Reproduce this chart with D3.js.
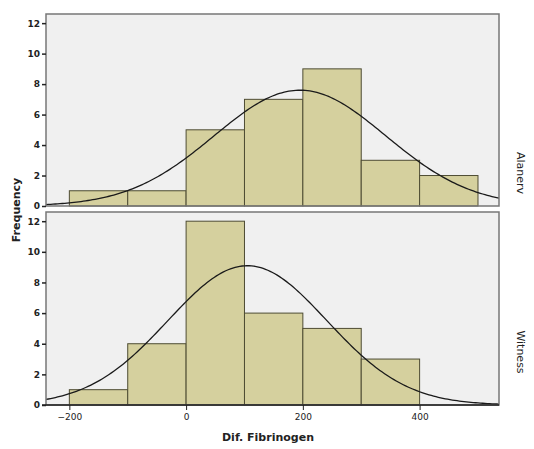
<!DOCTYPE html>
<html>
  <head>
    <meta charset="utf-8" />
    <title>Dif. Fibrinogen</title>
    <script src="https://d3js.org/d3.v7.min.js"></script>
    <style>
        body {margin: 0; background: #fff;}
        text {font-family: "DejaVu Sans", sans-serif; fill: #222;}
    </style>
  </head>
  <body>

    <svg id="chart" width="534" height="449"></svg>

    <script>

        // data
        var groups = ["Alanerv", "Witness"];
        var binStarts = [-200, -100, 0, 100, 200, 300, 400];
        var binWidth = 100;
        var alanervCounts = [1, 1, 5, 7, 9, 3, 2];
        var witnessCounts = [1, 4, 12, 6, 5, 3, 0];
        var curveMeans = [195, 105];
        var curveSds = [147, 136];
        var yTicks = [0, 2, 4, 6, 8, 10, 12];
        var xTicks = [-200, 0, 200, 400];

        var counts = [alanervCounts, witnessCounts];

        var svg = d3.select("#chart");

        var x = d3.scaleLinear().domain([-240, 536]).range([46, 499]);

        var panels = [
            {top: 14, bottom: 206, labelY: 173},
            {top: 212, bottom: 405, labelY: 352}
        ];

        panels.forEach(function(p, i) {

            var y = d3.scaleLinear().domain([0, 12.6]).range([p.bottom, p.top]);
            var g = svg.append("g");

            // plot background
            g.append("rect")
                .attr("x", x.range()[0])
                .attr("y", p.top)
                .attr("width", x.range()[1] - x.range()[0])
                .attr("height", p.bottom - p.top)
                .attr("fill", "#f0f0f0");

            // bars
            var bars = binStarts.map(function(b, j) {
                return {x0: b, x1: b + binWidth, n: counts[i][j]};
            }).filter(function(d) { return d.n > 0; });

            g.selectAll(".bar")
                .data(bars)
                .enter().append("rect")
                .attr("class", "bar")
                .attr("x", function(d) { return x(d.x0); })
                .attr("y", function(d) { return y(d.n); })
                .attr("width", function(d) { return x(d.x1) - x(d.x0); })
                .attr("height", function(d) { return y(0) - y(d.n); })
                .attr("fill", "#d5d09e")
                .attr("stroke", "#4e4c33")
                .attr("stroke-width", 1);

            // normal curve
            var total = d3.sum(counts[i]);
            var m = curveMeans[i], s = curveSds[i];
            var pts = d3.range(x.domain()[0], x.domain()[1] + 1, 4).map(function(v) {
                var z = (v - m) / s;
                return [v, total * binWidth * Math.exp(-0.5 * z * z) / (s * Math.sqrt(2 * Math.PI))];
            });

            g.append("path")
                .datum(pts)
                .attr("fill", "none")
                .attr("stroke", "#1a1a1a")
                .attr("stroke-width", 1.3)
                .attr("d", d3.line()
                    .x(function(d) { return x(d[0]); })
                    .y(function(d) { return y(d[1]); }));

            // frame
            g.append("rect")
                .attr("x", x.range()[0])
                .attr("y", p.top)
                .attr("width", x.range()[1] - x.range()[0])
                .attr("height", p.bottom - p.top)
                .attr("fill", "none")
                .attr("stroke", "#777")
                .attr("stroke-width", 1.5);

            // y axis
            var yAxis = g.append("g")
                .attr("transform", "translate(" + x.range()[0] + ",0)")
                .call(d3.axisLeft(y).tickValues(yTicks).tickSize(4).tickPadding(2));
            yAxis.select(".domain").remove();
            yAxis.selectAll("line").attr("stroke", "#222").attr("stroke-width", 1.5);
            yAxis.selectAll("text")
                .style("font-size", "9px")
                .style("font-weight", "bold")
                .attr("fill", "#222");

            // panel label
            svg.append("text")
                .attr("transform", "translate(517," + p.labelY + ") rotate(90)")
                .attr("text-anchor", "middle")
                .style("font-size", "11px")
                .text(groups[i]);
        });

        // x axis along bottom
        var xAxis = svg.append("g")
            .attr("transform", "translate(0,405)")
            .call(d3.axisBottom(x).tickValues(xTicks).tickSize(5).tickPadding(4));
        xAxis.select(".domain")
            .attr("d", "M42,0H499")
            .attr("stroke", "#222")
            .attr("stroke-width", 1.5);
        xAxis.selectAll("line").attr("stroke", "#222");
        xAxis.selectAll("text")
            .style("font-size", "9px")
            .attr("fill", "#222");

        // axis titles
        svg.append("text")
            .attr("transform", "translate(20,210) rotate(-90)")
            .attr("text-anchor", "middle")
            .style("font-size", "11px")
            .style("font-weight", "bold")
            .text("Frequency");

        svg.append("text")
            .attr("x", 268)
            .attr("y", 441)
            .attr("text-anchor", "middle")
            .style("font-size", "11px")
            .style("font-weight", "bold")
            .text("Dif. Fibrinogen");

    </script>

  </body>
</html>
